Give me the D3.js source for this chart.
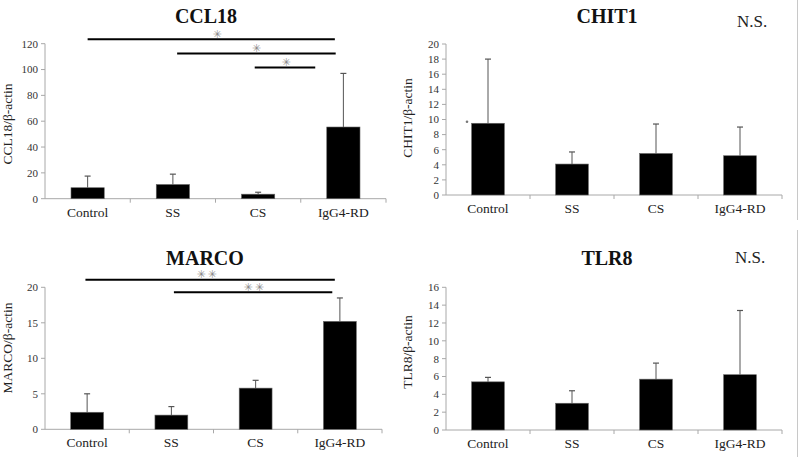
<!DOCTYPE html>
<html><head><meta charset="utf-8">
<script src="https://cdn.jsdelivr.net/npm/d3@7"></script>
<style>
body{margin:0;background:#fff;}
svg{display:block;font-family:"Liberation Serif","Times New Roman",serif;}
</style></head>
<body>
<svg id="c" width="800" height="457"></svg>
<script>
const categories = ["Control","SS","CS","IgG4-RD"];

const ccl18Mean = [8.5, 11, 3.5, 55.5];
const ccl18Err  = [17.5, 19, 5, 97];
const ccl18Ticks = [0,20,40,60,80,100,120];

const chit1Mean = [9.5, 4.1, 5.5, 5.2];
const chit1Err  = [18, 5.7, 9.4, 9.0];
const chit1Ticks = [0,2,4,6,8,10,12,14,16,18,20];

const marcoMean = [2.4, 2.0, 5.8, 15.2];
const marcoErr  = [5.0, 3.2, 6.9, 18.5];
const marcoTicks = [0,5,10,15,20];

const tlr8Mean = [5.4, 3.0, 5.7, 6.2];
const tlr8Err  = [5.9, 4.4, 7.5, 13.4];
const tlr8Ticks = [0,2,4,6,8,10,12,14,16];

// significance brackets: [fromIndex, toIndex, value, label, labelIndex]
const ccl18Sig = [[0, 2.9, 123.4, "✳", 1.53],[1.05, 2.91, 112.5, "✳", 1.99],[1.96, 2.67, 101.5, "✳", 2.34]];
const marcoSig = [[-0.02, 2.94, 21.05, "✳✳", 1.43],[1.03, 2.91, 19.3, "✳✳", 1.99]];

const svg = d3.select("#c");

function panel(o){
  const g = svg.append("g");
  const x = d3.scaleBand().domain(categories).range([o.x0, o.x1]);
  const xi = d3.scaleLinear().domain([-0.5, 3.5]).range([o.x0, o.x1]);
  const y = d3.scaleLinear().domain([0, o.max]).range([o.y0, o.yTop]);
  const bw = x.bandwidth()*0.39;

  g.append("line").attr("x1",o.x0).attr("x2",o.x0).attr("y1",o.y0).attr("y2",o.yTop)
    .attr("stroke","#a8a8a8").attr("stroke-width",1);
  g.append("line").attr("x1",o.x0).attr("x2",o.x1).attr("y1",o.y0).attr("y2",o.y0)
    .attr("stroke","#a8a8a8").attr("stroke-width",1);
  o.ticks.forEach(t=>{
    g.append("line").attr("x1",o.x0-4).attr("x2",o.x0).attr("y1",y(t)).attr("y2",y(t))
      .attr("stroke","#a8a8a8");
    g.append("text").attr("x",o.x0-7).attr("y",y(t)).attr("dy","0.35em")
      .attr("text-anchor","end").attr("font-size",11).attr("fill","#333").text(t);
  });
  categories.forEach((c,i)=>{
    if(i>0){
      g.append("line").attr("x1",x(c)).attr("x2",x(c)).attr("y1",o.y0).attr("y2",o.y0+4).attr("stroke","#a8a8a8");
    }
  });
  g.append("line").attr("x1",o.x1).attr("x2",o.x1).attr("y1",o.y0).attr("y2",o.y0+4).attr("stroke","#a8a8a8");
  categories.forEach(c=>{
    g.append("text").attr("x",x(c)+x.bandwidth()/2).attr("y",o.y0+18)
      .attr("text-anchor","middle").attr("font-size",13.5).attr("fill","#222").text(c);
  });
  categories.forEach((c,i)=>{
    const cx = x(c)+x.bandwidth()/2;
    g.append("line").attr("x1",cx).attr("x2",cx).attr("y1",y(o.mean[i])).attr("y2",y(o.err[i]))
      .attr("stroke","#555").attr("stroke-width",1);
    g.append("line").attr("x1",cx-3).attr("x2",cx+3).attr("y1",y(o.err[i])).attr("y2",y(o.err[i]))
      .attr("stroke","#555").attr("stroke-width",1.2);
  });
  categories.forEach((c,i)=>{
    const cx = x(c)+x.bandwidth()/2;
    g.append("rect").attr("x",cx-bw/2).attr("width",bw)
      .attr("y",y(o.mean[i])).attr("height",o.y0-y(o.mean[i]))
      .attr("fill","#000").attr("stroke","#666").attr("stroke-width",0.6);
  });
  g.append("text").attr("x",o.titleX).attr("y",o.titleY).attr("text-anchor","middle")
    .attr("font-size",20).attr("font-weight","bold").attr("fill","#111").text(o.title);
  g.append("text").attr("transform",`translate(${o.labX},${o.labY}) rotate(-90)`)
    .attr("text-anchor","middle").attr("font-size",13.5).attr("fill","#222").text(o.title+"/β-actin");
  if(o.ns){
    g.append("text").attr("x",o.nsX).attr("y",o.nsY).attr("font-size",17).attr("fill","#222").text("N.S.");
  }
  if(o.sig){
    o.sig.forEach(s=>{
      g.append("line").attr("x1",xi(s[0])).attr("x2",xi(s[1])).attr("y1",y(s[2])).attr("y2",y(s[2]))
        .attr("stroke","#000").attr("stroke-width",2);
      g.append("text").attr("x",xi(s[4])).attr("y",y(s[2])-5.5).attr("dy","0.35em")
        .attr("text-anchor","middle").attr("font-family","DejaVu Sans").attr("font-size",11)
        .attr("letter-spacing",2).attr("fill","#8a8a8a").text(s[3]);
    });
  }
  if(o.dot){
    g.append("circle").attr("cx",xi(o.dot[0])).attr("cy",y(o.dot[1])).attr("r",1.3).attr("fill","#777");
  }
}

panel({title:"CCL18", mean:ccl18Mean, err:ccl18Err, ticks:ccl18Ticks, max:120,
  x0:45, x1:386, y0:198.7, yTop:43.7, titleX:206, titleY:23, labX:12, labY:124, sig:ccl18Sig});
panel({title:"CHIT1", mean:chit1Mean, err:chit1Err, ticks:chit1Ticks, max:20,
  x0:446, x1:782, y0:195, yTop:44, titleX:607, titleY:23, labX:412, labY:118, ns:true, nsX:737, nsY:27, dot:[-0.25, 9.7]});
panel({title:"MARCO", mean:marcoMean, err:marcoErr, ticks:marcoTicks, max:20,
  x0:45, x1:382, y0:429.3, yTop:287.3, titleX:205, titleY:265, labX:12, labY:348, sig:marcoSig});
panel({title:"TLR8", mean:tlr8Mean, err:tlr8Err, ticks:tlr8Ticks, max:16,
  x0:446, x1:782, y0:430, yTop:287.3, titleX:607, titleY:265, labX:412, labY:352, ns:true, nsX:735, nsY:263});

svg.append("line").attr("x1",797.5).attr("x2",797.5).attr("y1",0).attr("y2",220).attr("stroke","#c8c8c8");
svg.append("line").attr("x1",797.5).attr("x2",797.5).attr("y1",230).attr("y2",457).attr("stroke","#c8c8c8");
</script>
</body></html>
